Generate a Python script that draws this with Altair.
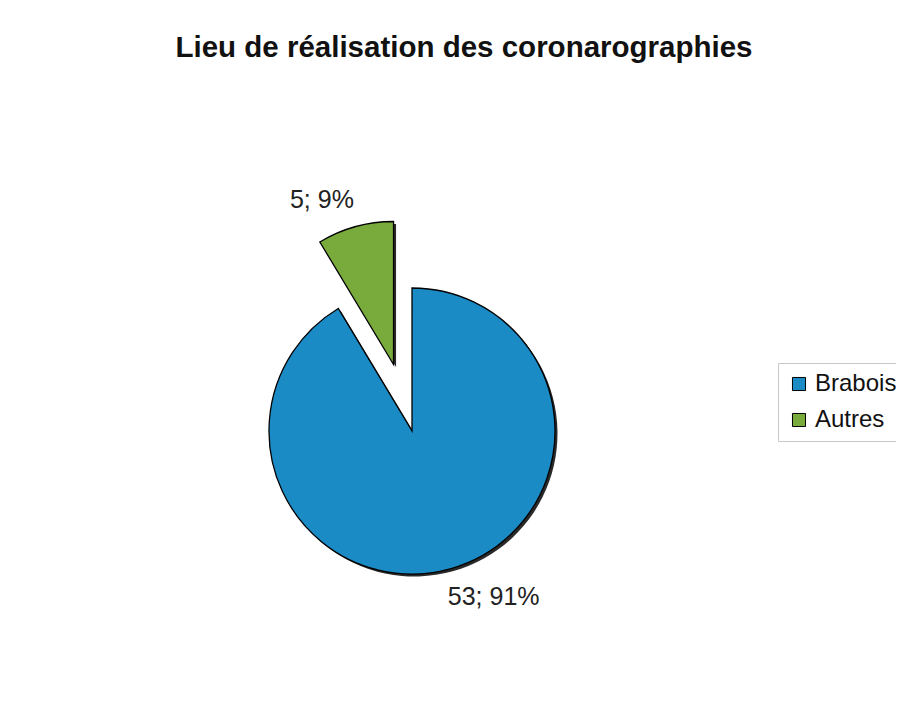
import math
import altair as alt
import pandas as pd

# ---- data ----
categories = ["Brabois", "Autres"]
values = [53, 5]
percents = [91, 9]
colors = ["#1b8bc6", "#79aa3c"]

total = sum(values)
starts, ends = [], []
acc = 0
for v in values:
    starts.append(acc)
    acc += v
    ends.append(acc)

df = pd.DataFrame({
    "cat": categories,
    "value": values,
    "start": starts,
    "end": ends,
    "mid": [(s + e) / 2 for s, e in zip(starts, ends)],
    "label": [f"{v}; {p}%" for v, p in zip(values, percents)],
})

# ---- layout ----
W, H = 888, 624
PAD_TOP = 75
CX, CY = 404, 348
R = 143
EXPLODE = 69

theta_scale = alt.Scale(domain=[0, total], range=[0, 2 * math.pi])
color_scale = alt.Scale(domain=categories, range=colors)


def center(cat):
    if cat == "Autres":
        row = df[df.cat == cat].iloc[0]
        ang = row["mid"] / total * 2 * math.pi
        return CX + EXPLODE * math.sin(ang), CY - EXPLODE * math.cos(ang)
    return CX, CY


layers = []
label_shift = {"Brabois": (33, -9, 182), "Autres": (-24, 7, 178)}
for cat in categories:
    cx, cy = center(cat)
    sub = alt.Chart(df).transform_filter(alt.datum.cat == cat)
    shadow = sub.mark_arc(radius=R, color="#2a2a2a", xOffset=2.5, yOffset=2.5).encode(
        x=alt.value(cx), y=alt.value(cy),
        theta=alt.Theta("start:Q", scale=theta_scale),
        theta2="end:Q",
    )
    arc = sub.mark_arc(radius=R, stroke="#000000", strokeWidth=1.3).encode(
        x=alt.value(cx), y=alt.value(cy),
        theta=alt.Theta("start:Q", scale=theta_scale),
        theta2="end:Q",
        color=alt.Color("cat:N", scale=color_scale, sort=categories,
                        legend=alt.Legend(title=None)),
    )
    dx, dy, rr = label_shift[cat]
    text = sub.mark_text(radius=rr, fontSize=25, font="Liberation Sans",
                         color="#222222", dx=dx, dy=dy).encode(
        x=alt.value(cx), y=alt.value(cy),
        theta=alt.Theta("mid:Q", scale=theta_scale),
        text="label:N",
    )
    layers += [shadow, arc, text]

chart = alt.layer(*layers).properties(
    width=W,
    height=H,
    padding={"left": 0, "top": PAD_TOP, "right": 0, "bottom": 0},
    autosize=alt.AutoSizeParams(type="none"),
    background="#ffffff",
    title=alt.TitleParams(
        "Lieu de réalisation des coronarographies",
        fontSize=29.5, font="Liberation Sans", fontWeight="bold",
        color="#111111", anchor="middle", baseline="alphabetic", offset=29,
        dy=32, dx=12,
    ),
).configure_view(stroke=None).configure_legend(
    orient="none", legendX=770, legendY=280,
    strokeColor="#c8c8c8", padding=9, cornerRadius=0,
    labelFontSize=24, labelFont="Liberation Sans", labelColor="#111111",
    symbolType="square", symbolSize=170, symbolStrokeColor="#000000",
    symbolStrokeWidth=1, rowPadding=12, labelOffset=4,
)

chart.save("out.html", embed_options={"renderer": "svg", "actions": False})
